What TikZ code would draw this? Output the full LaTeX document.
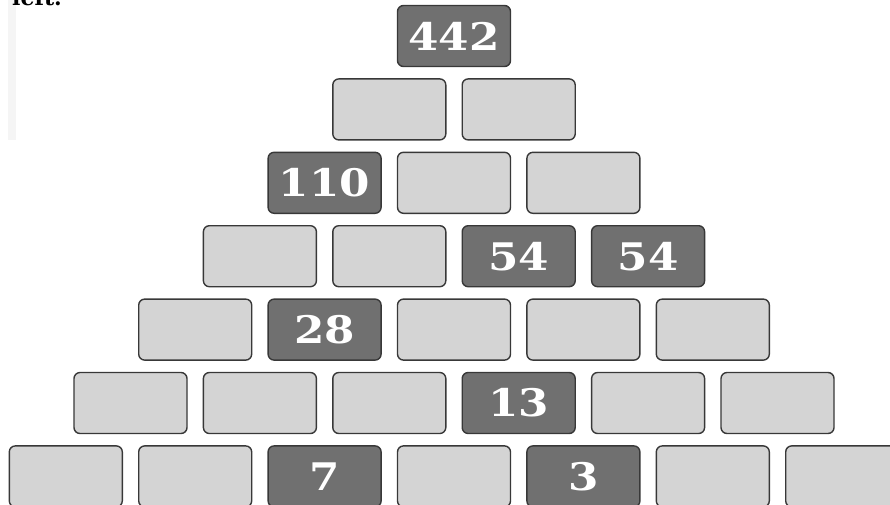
\documentclass[tikz,border=0pt]{standalone}
\usepackage{fontspec}
\newfontfamily\numfont[FakeStretch=1.15]{DejaVu Serif}
\newfontfamily\plainserif{DejaVu Serif}
\begin{document}
\begin{tikzpicture}[x=1pt,y=-1pt,
  cell/.style={draw=black!78,line width=1.4pt,rounded corners=6pt,minimum width=113pt,minimum height=61pt,inner sep=0pt},
  lightcell/.style={cell,fill=black!17},
  darkcell/.style={cell,fill=black!56,text=white,font=\numfont\bfseries\fontsize{38}{38}\selectfont}]
\useasboundingbox (0,0) rectangle (890,504);
\fill[white] (0,0) rectangle (890,504);
\fill[black!4] (8,0) rectangle (16,140);
\begin{scope}
\clip (0,0) rectangle (890,504);
\node[anchor=base west,inner sep=0pt,font=\plainserif\bfseries\fontsize{22}{22}\selectfont] (lefttext) at (12,5) {left.};
% row 0
\node[darkcell] (r0c0) at (454,36) {442};
% row 1
\node[lightcell] (r1c0) at (389.3,109.4) {};
\node[lightcell] (r1c1) at (518.7,109.4) {};
% row 2
\node[darkcell] (r2c0) at (324.6,182.8) {110};
\node[lightcell] (r2c1) at (454,182.8) {};
\node[lightcell] (r2c2) at (583.4,182.8) {};
% row 3
\node[lightcell] (r3c0) at (259.9,256.2) {};
\node[lightcell] (r3c1) at (389.3,256.2) {};
\node[darkcell] (r3c2) at (518.7,256.2) {54};
\node[darkcell] (r3c3) at (648.1,256.2) {54};
% row 4
\node[lightcell] (r4c0) at (195.2,329.6) {};
\node[darkcell] (r4c1) at (324.6,329.6) {28};
\node[lightcell] (r4c2) at (454,329.6) {};
\node[lightcell] (r4c3) at (583.4,329.6) {};
\node[lightcell] (r4c4) at (712.8,329.6) {};
% row 5
\node[lightcell] (r5c0) at (130.5,403) {};
\node[lightcell] (r5c1) at (259.9,403) {};
\node[lightcell] (r5c2) at (389.3,403) {};
\node[darkcell] (r5c3) at (518.7,403) {13};
\node[lightcell] (r5c4) at (648.1,403) {};
\node[lightcell] (r5c5) at (777.5,403) {};
% row 6
\node[lightcell] (r6c0) at (65.8,476.4) {};
\node[lightcell] (r6c1) at (195.2,476.4) {};
\node[darkcell] (r6c2) at (324.6,476.4) {7};
\node[lightcell] (r6c3) at (454,476.4) {};
\node[darkcell] (r6c4) at (583.4,476.4) {3};
\node[lightcell] (r6c5) at (712.8,476.4) {};
\node[lightcell] (r6c6) at (842.2,476.4) {};
\end{scope}
\end{tikzpicture}
\end{document}
